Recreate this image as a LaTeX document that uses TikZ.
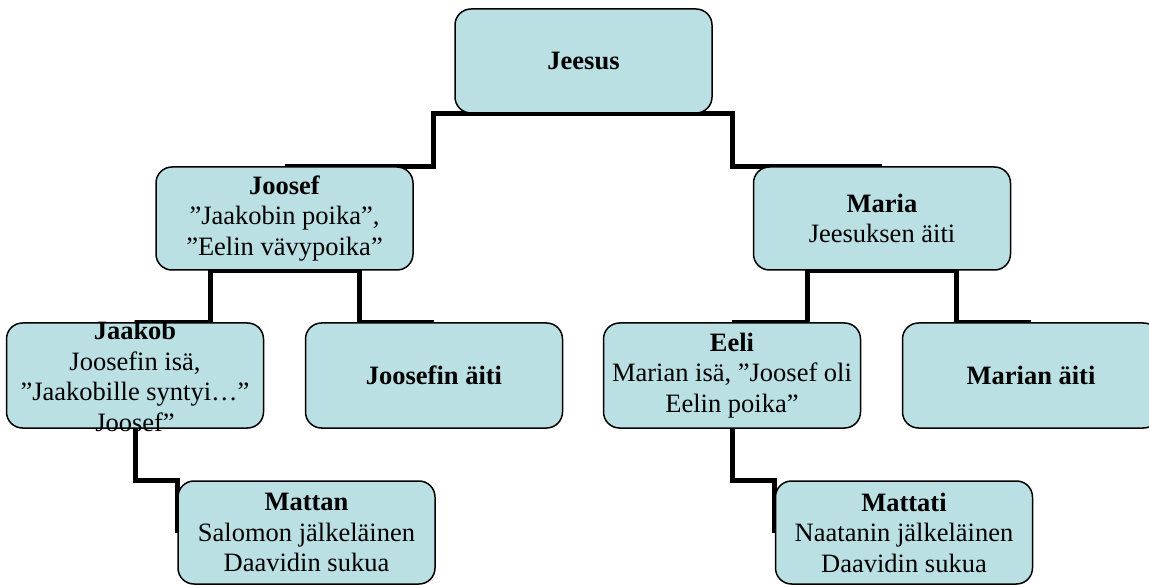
\documentclass[tikz,border=0pt]{standalone}
\usepackage{fontspec}
\setmainfont{Liberation Serif}
\usepackage{tikz}
\usetikzlibrary{backgrounds}
\definecolor{boxfill}{RGB}{186,224,227}
\tikzset{person/.style={shape=rectangle, rounded corners=16pt, draw=black, line width=1.5pt, fill=boxfill,
    minimum width=257pt, minimum height=104pt, inner sep=2pt, align=center,
    font=\fontsize{26.5}{30.5}\selectfont}}
\tikzset{link/.style={draw=black, line width=5pt, miter limit=4}}

\begin{document}
\begin{tikzpicture}[x=1pt, y=-1pt]

                \useasboundingbox (0,0) rectangle (1149,585);

                \node[person] (jeesus) at (583.5,61) {\textbf{Jeesus}};
                \node[person, minimum height=103pt] (joosef) at (284.5,218.5) {\textbf{Joosef}\\”Jaakobin poika”,\\”Eelin vävypoika”};
                \node[person, minimum height=103pt] (maria) at (882,218.5) {\textbf{Maria}\\Jeesuksen äiti};
                \node[person, minimum height=105pt] (jaakob) at (135,375.5) {\raisebox{-10pt}[0pt][0pt]{\begin{tabular}{@{}c@{}}\textbf{Jaakob}\\Joosefin isä,\\”Jaakobille syntyi…”\\Joosef”\end{tabular}}};
                \node[person, minimum height=105pt] (joosefaiti) at (434,375.5) {\textbf{Joosefin äiti}};
                \node[person, minimum height=105pt] (eeli) at (732,375.5) {\textbf{Eeli}\\Marian isä, ”Joosef oli\\Eelin poika”};
                \node[person, minimum height=105pt] (mariaaiti) at (1031,375.5) {\textbf{Marian äiti}};
                \node[person, minimum height=103pt] (mattan) at (306.5,532.5) {\textbf{Mattan}\\Salomon jälkeläinen\\Daavidin sukua};
                \node[person, minimum height=103pt] (mattati) at (904,532.5) {\textbf{Mattati}\\Naatanin jälkeläinen\\Daavidin sukua};

                \begin{scope}[on background layer]
                \draw[link] (jeesus.south) -- ++(-150.5,0) |- (joosef.north);
                \draw[link] (jeesus.south) -- ++(148.5,0) |- (maria.north);
                \draw[link] (joosef.south) -- ++(-74.5,0) |- (jaakob.north);
                \draw[link] (joosef.south) -- ++(74.5,0) |- (joosefaiti.north);
                \draw[link] (maria.south) -- ++(-74.5,0) |- (eeli.north);
                \draw[link] (maria.south) -- ++(74,0) |- (mariaaiti.north);
                \draw[link] (jaakob.south) |- (mattan.north west) -- (mattan.west);
                \draw[link] (eeli.south) |- (mattati.north west) -- (mattati.west);
                \end{scope}

\end{tikzpicture}
\end{document}
